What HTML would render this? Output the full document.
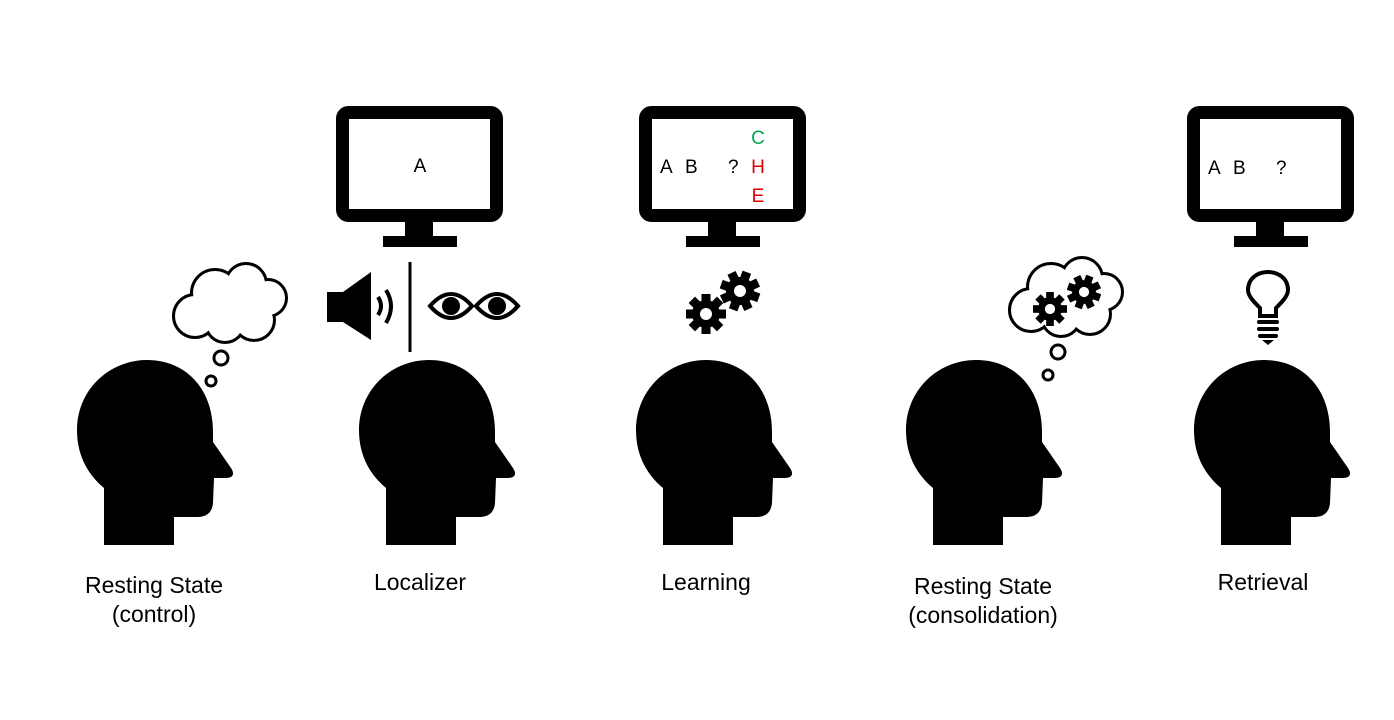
<!DOCTYPE html>
<html><head><meta charset="utf-8"><style>html,body{margin:0;padding:0;background:#fff}svg{display:block}</style></head>
<body>
<svg width="1394" height="720" viewBox="0 0 1394 720" xmlns="http://www.w3.org/2000/svg" font-family="Liberation Sans, sans-serif">
<defs>
<path id="head" d="M27,185 L27,128 C8,112 0,92 0,70 C0,30 32,0 70,0 C110,0 136,30 136,72 L136,82 L154,108 C158,114 156,118 149,118 L137,118 L136,143 C135,154 128,157 120,157 L97,157 L97,185 Z" fill="#000"/>
<g id="mon">
<rect x="6.5" y="6.5" width="154" height="103" rx="6" fill="#fff" stroke="#000" stroke-width="13"/>
<rect x="69" y="116" width="28" height="15" fill="#000"/>
<rect x="47" y="130" width="74" height="11" fill="#000"/>
</g>
<g id="gear">
<g fill="#000">
<circle r="14"/>
<rect x="-4.5" y="-20" width="9" height="40"/>
<rect x="-4.5" y="-20" width="9" height="40" transform="rotate(45)"/>
<rect x="-4.5" y="-20" width="9" height="40" transform="rotate(90)"/>
<rect x="-4.5" y="-20" width="9" height="40" transform="rotate(135)"/>
</g>
<circle r="6" fill="#fff"/>
</g>
<g id="eye">
<path d="M-21,0 Q0,-24 21,0 Q0,24 -21,0 Z" fill="#fff" stroke="#000" stroke-width="4"/>
<circle r="9" fill="#000"/>
</g>
</defs>

<use href="#head" x="77" y="360"/>
<use href="#head" x="359" y="360"/>
<use href="#head" x="636" y="360"/>
<use href="#head" x="906" y="360"/>
<use href="#head" x="1194" y="360"/>

<g stroke="#000" stroke-width="6" fill="#000">
<circle cx="195" cy="316" r="20"/><circle cx="215" cy="293" r="22"/><circle cx="246" cy="284" r="19"/><circle cx="268" cy="298" r="17"/><circle cx="254" cy="320" r="19"/><circle cx="225" cy="323" r="18"/><circle cx="232" cy="303" r="20"/>
</g>
<g fill="#fff">
<circle cx="195" cy="316" r="20"/><circle cx="215" cy="293" r="22"/><circle cx="246" cy="284" r="19"/><circle cx="268" cy="298" r="17"/><circle cx="254" cy="320" r="19"/><circle cx="225" cy="323" r="18"/><circle cx="232" cy="303" r="20"/>
</g>
<circle cx="221" cy="358" r="7" fill="none" stroke="#000" stroke-width="3"/>
<circle cx="211" cy="381" r="5" fill="none" stroke="#000" stroke-width="3"/>

<g transform="translate(836,-6)">
<g stroke="#000" stroke-width="6" fill="#000">
<circle cx="195" cy="316" r="20"/><circle cx="215" cy="293" r="22"/><circle cx="246" cy="284" r="19"/><circle cx="268" cy="298" r="17"/><circle cx="254" cy="320" r="19"/><circle cx="225" cy="323" r="18"/><circle cx="232" cy="303" r="20"/>
</g>
<g fill="#fff">
<circle cx="195" cy="316" r="20"/><circle cx="215" cy="293" r="22"/><circle cx="246" cy="284" r="19"/><circle cx="268" cy="298" r="17"/><circle cx="254" cy="320" r="19"/><circle cx="225" cy="323" r="18"/><circle cx="232" cy="303" r="20"/>
</g>
</g>
<use href="#gear" transform="translate(1050,309) scale(0.85)"/>
<use href="#gear" transform="translate(1084,292) scale(0.85) rotate(20)"/>
<circle cx="1058" cy="352" r="7" fill="none" stroke="#000" stroke-width="3"/>
<circle cx="1048" cy="375" r="5" fill="none" stroke="#000" stroke-width="3"/>

<use href="#mon" x="336" y="106"/>
<use href="#mon" x="639" y="106"/>
<use href="#mon" x="1187" y="106"/>
<g font-size="19" fill="#000">
<text x="420" y="172" text-anchor="middle">A</text>
<text x="660" y="173">A</text><text x="685" y="173">B</text><text x="728" y="173">?</text>
<text x="758" y="144" text-anchor="middle" fill="#00a651">C</text>
<text x="758" y="173" text-anchor="middle" fill="#e00000">H</text>
<text x="758" y="202" text-anchor="middle" fill="#e00000">E</text>
<text x="1208" y="174">A</text><text x="1233" y="174">B</text><text x="1276" y="174">?</text>
</g>

<rect x="327" y="292" width="18" height="30" fill="#000"/>
<path d="M343,292 L371,272 L371,340 L343,322 Z" fill="#000"/>
<path d="M378,297 Q384,306 378,315" fill="none" stroke="#000" stroke-width="4"/>
<path d="M386,290 Q396,306 386,323" fill="none" stroke="#000" stroke-width="4"/>
<line x1="410" y1="262" x2="410" y2="352" stroke="#000" stroke-width="3"/>
<use href="#eye" x="451" y="306"/>
<use href="#eye" x="497" y="306"/>

<use href="#gear" x="706" y="314"/>
<use href="#gear" transform="translate(740,291) rotate(20)"/>

<path d="M1260,316 L1260,308 C1254,302 1248,296 1248,290 C1248,279 1257,272 1268,272 C1279,272 1288,279 1288,290 C1288,296 1282,302 1276,308 L1276,316 Z" fill="#fff" stroke="#000" stroke-width="4"/>
<rect x="1257" y="320" width="22" height="4" rx="2" fill="#000"/>
<rect x="1257" y="327" width="22" height="4" rx="2" fill="#000"/>
<rect x="1258" y="334" width="20" height="4" rx="2" fill="#000"/>
<path d="M1262,340 L1274,340 L1268,345 Z" fill="#000"/>

<g font-size="23" fill="#000" text-anchor="middle">
<text x="154" y="593">Resting State</text>
<text x="154" y="622">(control)</text>
<text x="420" y="590">Localizer</text>
<text x="706" y="590">Learning</text>
<text x="983" y="594">Resting State</text>
<text x="983" y="623">(consolidation)</text>
<text x="1263" y="590">Retrieval</text>
</g>
</svg>
</body></html>
